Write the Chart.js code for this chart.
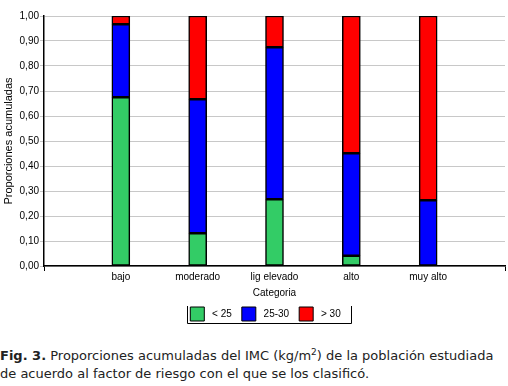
<!DOCTYPE html>
<html>
<head>
<meta charset="utf-8">
<script src="https://cdn.jsdelivr.net/npm/chart.js@4"></script>
<style>
  body { margin: 0; background: #fff; }
  #wrap { position: relative; width: 508px; height: 335px; }
  .caption {
    position: absolute; left: 0; top: 347px; width: 508px;
    font-family: "DejaVu Sans", Verdana, sans-serif; font-size: 13px;
    line-height: 18px; color: #222;
  }
  .caption sup { font-size: 9px; line-height: 0; }
</style>
</head>
<body>
<div id="wrap"><canvas id="chart" width="508" height="335"></canvas></div>
<div class="caption"><b>Fig. 3.</b> Proporciones acumuladas del IMC (kg/m<sup>2</sup>) de la población estudiada de acuerdo al factor de riesgo con el que se los clasificó.</div>

<script>
// categories (empty slots at both ends, like the original axis)
var categorias = ["", "bajo", "moderado", "lig elevado", "alto", "muy alto", ""];

// proporciones por grupo de IMC
var menos25 = [null, 0.675, 0.131, 0.267, 0.041, 0.000, null];
var de25a30 = [null, 0.292, 0.536, 0.608, 0.410, 0.263, null];
var mas30   = [null, 0.033, 0.333, 0.125, 0.549, 0.737, null];

var yTicks = [0, 0.1, 0.2, 0.3, 0.4, 0.5, 0.6, 0.7, 0.8, 0.9, 1.0];

var fuente = "Liberation Sans, Arial, sans-serif";

function extremo(ctx) {
  return (ctx.index === 0 || ctx.index === categorias.length - 1) ? "#000" : "rgba(0,0,0,0)";
}

// frame round the legend (left, right and bottom sides only)
// + nudge the legend a bit to the left like in the original
var legendFrame = {
  id: "legendFrame",
  afterLayout: function(chart) {
    chart.legend.left -= 9;
    chart.legend.right -= 9;
  },
  afterDraw: function(chart) {
    var boxes = chart.legend.legendHitBoxes;
    if (!boxes || !boxes.length) return;
    var last = boxes[boxes.length - 1];
    var x1 = Math.round(boxes[0].left - 3) + 0.5;
    var x2 = Math.round(last.left + last.width + 10) + 0.5;
    var y1 = boxes[0].top - 1;
    var y2 = Math.round(boxes[0].top + 16) + 0.5;
    var c = chart.ctx;
    c.save();
    c.strokeStyle = "#000";
    c.lineWidth = 1;
    c.beginPath();
    c.moveTo(x1, y1); c.lineTo(x1, y2); c.lineTo(x2, y2); c.lineTo(x2, y1);
    c.stroke();
    c.restore();
  }
};

new Chart(document.getElementById("chart"), {
  type: "bar",
  data: {
    labels: categorias,
    datasets: [{
        label: "< 25",
        data: menos25,
        backgroundColor: "#33cc66"
      }, {
        label: "25-30",
        data: de25a30,
        backgroundColor: "#0000ff"
      }, {
        label: "> 30",
        data: mas30,
        backgroundColor: "#ff0000"
      }
    ]
  },
  options: {
    responsive: false,
    animation: false,
    layout: { padding: { top: 16, right: 3, left: 2, bottom: 4 } },
    datasets: {
      bar: {
        barThickness: 18,
        borderColor: "#000",
        borderWidth: 1.5,
        borderSkipped: false
      }
    },
    plugins: {
      tooltip: { enabled: false },
      legend: {
        position: "bottom",
        fullSize: false,
        labels: {
          boxWidth: 14,
          boxHeight: 14,
          padding: 10,
          color: "#000",
          font: { family: fuente, size: 10 },
          generateLabels: function(chart) {
            return chart.data.datasets.map(function(ds, i) {
              return {
                text: " " + ds.label,
                fillStyle: ds.backgroundColor,
                strokeStyle: "#000",
                lineWidth: 1,
                datasetIndex: i
              };
            });
          }
        }
      }
    },
    scales: {
      x: {
        stacked: true,
        offset: false,
        border: { display: true, color: "#000", width: 1.5 },
        grid: {
          display: true,
          offset: false,
          drawOnChartArea: false,
          tickLength: 5,
          color: extremo,
          tickColor: extremo
        },
        ticks: {
          color: "#000",
          maxRotation: 0,
          autoSkip: false,
          padding: 0,
          font: { family: fuente, size: 10 }
        },
        title: {
          display: true,
          text: "Categoria",
          color: "#000",
          padding: { top: 4, bottom: -2 },
          font: { family: fuente, size: 10 }
        }
      },
      y: {
        stacked: true,
        min: 0,
        max: 1,
        border: { display: true, color: "#000", width: 1.5 },
        grid: { color: "#c8c8c8", lineWidth: 1, tickLength: 4 },
        afterBuildTicks: function(scale) {
          scale.ticks = yTicks.map(function(v) { return { value: v }; });
        },
        afterFit: function(scale) { scale.width = 42; },
        ticks: {
          color: "#000",
          padding: 1,
          font: { family: fuente, size: 10 },
          callback: function(v) { return Number(v).toFixed(2).replace(".", ","); }
        },
        title: {
          display: true,
          text: "Proporciones acumuladas",
          color: "#000",
          padding: 0,
          font: { family: fuente, size: 11 }
        }
      }
    }
  },
  plugins: [legendFrame]
});
</script>
</body>
</html>
